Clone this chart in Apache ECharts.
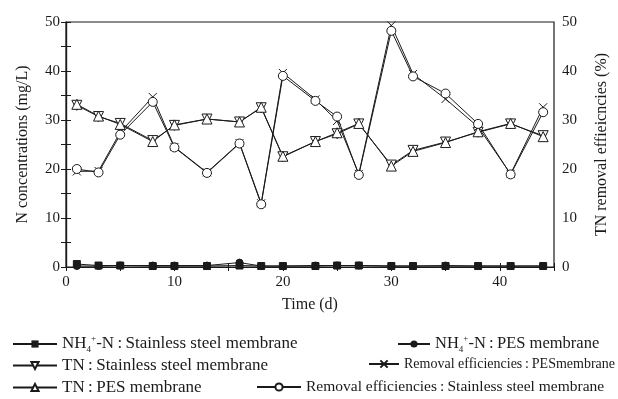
<!DOCTYPE html>
<html>
<head>
<meta charset="utf-8">
<script src="https://cdn.jsdelivr.net/npm/echarts@6/dist/echarts.min.js"></script>
<style>
  html, body { margin: 0; padding: 0; background: #fff; }
  #m1 { width: 618px; height: 399px; }
</style>
</head>
<body>
<div id="m1"></div>
<script>
// sampling days (d)
var days = [1, 3, 5, 8, 10, 13, 16, 18, 20, 23, 25, 27, 30, 32, 35, 38, 41, 44];
// N concentrations (mg/L)
var nh4Steel = [0.6, 0.3, 0.3, 0.2, 0.2, 0.2, 0.3, 0.2, 0.2, 0.2, 0.3, 0.3, 0.2, 0.2, 0.2, 0.2, 0.2, 0.2];
var nh4Pes = [0.2, 0.2, 0.3, 0.3, 0.3, 0.3, 0.9, 0.2, 0.2, 0.3, 0.3, 0.3, 0.2, 0.2, 0.3, 0.2, 0.2, 0.2];
var tnSteel = [33, 30.7, 29.3, 25.8, 28.9, 30.2, 29.6, 32.5, 22.5, 25.6, 27.2, 29.2, 20.8, 23.8, 25.5, 27.5, 29.2, 26.8];
var tnPes = [33.2, 30.8, 29.1, 25.6, 29, 30.2, 29.6, 32.6, 22.6, 25.6, 27.4, 29.3, 20.6, 23.6, 25.4, 27.6, 29.3, 26.6];
// TN removal efficiencies (%)
var remPes = [19.5, 19.6, 27.5, 34.7, 24.5, 19.3, 25.3, 13, 39.6, 34.2, 29.8, 19, 49.3, 39.4, 34.3, 28.6, 19, 32.6];
var remSteel = [20, 19.3, 27, 33.7, 24.4, 19.2, 25.2, 12.8, 39, 33.9, 30.7, 18.8, 48.2, 38.9, 35.4, 29.2, 18.9, 31.6];
var xTicks = [0, 10, 20, 30, 40];
var yTicks = [0, 10, 20, 30, 40, 50];

var names = [
    'NH4-N:Stainless steel membrane',
    'NH4-N:PES membrane',
    'TN:Stainless steel membrane',
    'Removal efficiencies:PESmembrane',
    'TN:PES membrane',
    'Removal efficiencies:Stainless steel membrane'
];

function pairs(ys) {
    return days.map(function (d, i) { return [d, ys[i]]; });
}

var font = '"Liberation Serif", "DejaVu Serif", serif';
var ink = '#1a1a1a';
var crossPath = 'path://M0,0L10,10M10,0L0,10';
var colon = '\u2009:\u2009';

function makeRich(size) {
    return {
        t: { fontFamily: font, fontSize: size, color: ink, lineHeight: 20 },
        sub: { fontFamily: font, fontSize: 9, color: ink, lineHeight: 20, verticalAlign: 'bottom' },
        sup: { fontFamily: font, fontSize: 9, color: ink, lineHeight: 20, verticalAlign: 'top' }
    };
}

function legendFmt(name) {
    var p = name.split(':');
    if (p[0] === 'NH4-N') {
        return '{t|NH}{sub|4}{sup|+}{t|-N' + colon + p[1] + '}';
    }
    return '{t|' + p[0] + colon + p[1] + '}';
}

function oneLegend(name, left, top, w, size) {
    return {
        data: [name],
        left: left,
        top: top,
        padding: 0,
        itemWidth: w,
        itemHeight: 9,
        itemGap: 4,
        selectedMode: false,
        formatter: legendFmt,
        textStyle: { rich: makeRich(size) }
    };
}

var lineStyle = { color: ink, width: 1 };

function tickFmt(list) {
    return function (v) { return list.indexOf(v) >= 0 ? v : ''; };
}

var myChart = echarts.init(document.getElementById('m1'));
var option = {
    animation: false,
    backgroundColor: '#fff',
    grid: {
        left: 66, right: 61, top: 22, bottom: 132,
        show: true, borderColor: ink, borderWidth: 1.2
    },
    legend: [
        oneLegend(names[0], 12, 334, 44, 17),
        oneLegend(names[1], 397, 334, 32, 16.5),
        oneLegend(names[2], 12, 357, 44, 17),
        oneLegend(names[3], 368, 357, 30, 14),
        oneLegend(names[4], 12, 379, 44, 17),
        oneLegend(names[5], 256, 379, 44, 15.5)
    ],
    xAxis: [
        {
            type: 'value', min: 0, max: 45, interval: 5,
            name: 'Time (d)', nameLocation: 'middle', nameGap: 30,
            nameTextStyle: { fontFamily: font, fontSize: 16, color: ink },
            axisLine: { show: true, lineStyle: { color: ink, width: 1.2 } },
            axisTick: { inside: true, length: 4, lineStyle: { color: ink } },
            splitLine: { show: false },
            axisLabel: {
                fontFamily: font, fontSize: 15, color: ink, margin: 8,
                formatter: tickFmt(xTicks)
            }
        },
        {
            type: 'value', min: 0, max: 45, interval: 5, position: 'top',
            axisLine: { show: true, lineStyle: { color: ink, width: 1.2 } },
            axisTick: { inside: true, length: 4, lineStyle: { color: ink } },
            splitLine: { show: false },
            axisLabel: { show: false }
        }
    ],
    yAxis: [
        {
            type: 'value', min: 0, max: 50, interval: 5,
            name: 'N concentrations (mg/L)', nameLocation: 'middle', nameGap: 35,
            nameTextStyle: { fontFamily: font, fontSize: 16, color: ink },
            axisLine: { show: true, lineStyle: { color: ink, width: 1.2 } },
            axisTick: { inside: true, length: 5, lineStyle: { color: ink } },
            splitLine: { show: false },
            axisLabel: {
                fontFamily: font, fontSize: 15, color: ink, margin: 6,
                formatter: tickFmt(yTicks)
            }
        },
        {
            type: 'value', min: 0, max: 50, interval: 5, position: 'right',
            name: 'TN removal effieicncies (%)', nameLocation: 'middle', nameGap: 40,
            nameRotate: 90,
            nameTextStyle: { fontFamily: font, fontSize: 16, color: ink },
            axisLine: { show: true, lineStyle: { color: ink, width: 1.2 } },
            axisTick: { inside: true, length: 5, lineStyle: { color: ink } },
            splitLine: { show: false },
            axisLabel: {
                fontFamily: font, fontSize: 15, color: ink, margin: 8,
                formatter: tickFmt(yTicks)
            }
        }
    ],
    series: [
        {
            name: names[0], type: 'line', yAxisIndex: 0,
            symbol: 'rect', symbolSize: 7,
            itemStyle: { color: ink, borderColor: ink },
            lineStyle: lineStyle,
            data: pairs(nh4Steel)
        },
        {
            name: names[1], type: 'line', yAxisIndex: 0,
            symbol: 'circle', symbolSize: 7,
            itemStyle: { color: ink, borderColor: ink },
            lineStyle: lineStyle,
            data: pairs(nh4Pes)
        },
        {
            name: names[2], type: 'line', yAxisIndex: 0,
            symbol: 'triangle', symbolSize: 10, symbolRotate: 180,
            itemStyle: { color: '#fff', borderColor: ink, borderWidth: 1 },
            lineStyle: lineStyle,
            data: pairs(tnSteel)
        },
        {
            name: names[3], type: 'line', yAxisIndex: 1,
            symbol: crossPath, symbolSize: 8,
            itemStyle: { color: 'none', borderColor: ink, borderWidth: 1 },
            lineStyle: lineStyle,
            data: pairs(remPes)
        },
        {
            name: names[4], type: 'line', yAxisIndex: 0,
            symbol: 'triangle', symbolSize: 10,
            itemStyle: { color: '#fff', borderColor: ink, borderWidth: 1 },
            lineStyle: lineStyle,
            data: pairs(tnPes)
        },
        {
            name: names[5], type: 'line', yAxisIndex: 1,
            symbol: 'circle', symbolSize: 9,
            itemStyle: { color: '#fff', borderColor: ink, borderWidth: 1 },
            lineStyle: lineStyle,
            data: pairs(remSteel)
        }
    ]
};

myChart.setOption(option);
</script>
</body>
</html>
